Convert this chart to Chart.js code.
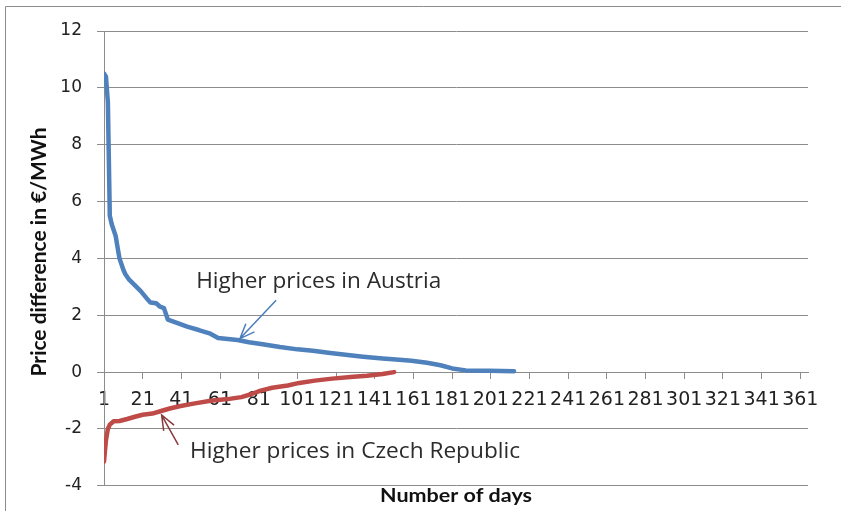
<!DOCTYPE html>
<html>
<head>
<meta charset="utf-8">
<script src="https://cdn.jsdelivr.net/npm/chart.js@4.4.1/dist/chart.umd.min.js"></script>
<style>
  html, body { margin: 0; padding: 0; background: #fff; }
  #wrap { width: 841px; height: 511px; position: relative; }
</style>
</head>
<body>
<div id="wrap"><canvas id="myChart" width="841" height="511"></canvas></div>
<script>
// x tick labels (every 20th day) and y ticks
const xTickDays = [1, 21, 41, 61, 81, 101, 121, 141, 161, 181, 201, 221, 241, 261, 281, 301, 321, 341, 361];
const yTickValues = [-4, -2, 0, 2, 4, 6, 8, 10, 12];

// Higher prices in Austria (sorted duration curve)
const austriaDays = [1, 2, 3, 4, 5, 7, 8, 9, 10, 11, 12, 14, 17, 20, 23, 25, 28, 30, 32, 34, 38, 44, 50, 56, 60, 70, 76, 83, 92, 101, 109, 118, 127, 135, 145, 152, 160, 168, 175, 181, 188, 200, 213];
const austriaValues = [10.5, 10.4, 9.5, 5.5, 5.2, 4.8, 4.4, 4.0, 3.8, 3.6, 3.45, 3.25, 3.05, 2.85, 2.6, 2.45, 2.42, 2.3, 2.25, 1.85, 1.75, 1.6, 1.48, 1.35, 1.2, 1.13, 1.05, 0.98, 0.88, 0.8, 0.75, 0.67, 0.6, 0.54, 0.48, 0.44, 0.4, 0.33, 0.24, 0.13, 0.06, 0.05, 0.03];

// Higher prices in Czech Republic
const czechDays = [1, 2, 3, 4, 6, 9, 13, 17, 21, 26, 31, 35, 40, 48, 57, 65, 72, 77, 82, 88, 96, 102, 110, 119, 130, 137, 145, 151];
const czechValues = [-3.15, -2.4, -2.0, -1.85, -1.73, -1.72, -1.65, -1.57, -1.5, -1.46, -1.36, -1.28, -1.2, -1.1, -1.0, -0.95, -0.88, -0.78, -0.65, -0.55, -0.47, -0.38, -0.3, -0.23, -0.16, -0.13, -0.07, 0.0];

const toPoints = (days, vals) => days.map((d, i) => ({ x: d, y: vals[i] }));

// draws text squeezed/stretched to a given width (the original is a stretched Excel image)
function fitText(ctx, text, cx, cy, width, font, color, rotate) {
    ctx.save();
    ctx.font = font;
    ctx.fillStyle = color;
    ctx.textAlign = 'center';
    ctx.textBaseline = 'middle';
    const w = ctx.measureText(text).width;
    ctx.translate(cx, cy);
    if (rotate) ctx.rotate(-Math.PI / 2);
    ctx.scale(width / w, 1);
    ctx.fillText(text, 0, 0);
    ctx.restore();
}

function arrow(ctx, x1, y1, x2, y2, color) {
    const ang = Math.atan2(y2 - y1, x2 - x1);
    const head = 16, spread = 0.38;
    ctx.save();
    ctx.strokeStyle = color;
    ctx.lineWidth = 1.5;
    ctx.beginPath();
    ctx.moveTo(x1, y1);
    ctx.lineTo(x2, y2);
    ctx.moveTo(x2 - head * Math.cos(ang - spread), y2 - head * Math.sin(ang - spread));
    ctx.lineTo(x2, y2);
    ctx.lineTo(x2 - head * Math.cos(ang + spread), y2 - head * Math.sin(ang + spread));
    ctx.stroke();
    ctx.restore();
}

const frameAndNotes = {
    id: 'frameAndNotes',
    beforeDraw(chart) {
        const ctx = chart.ctx;
        ctx.save();
        ctx.fillStyle = '#fff';
        ctx.fillRect(0, 0, chart.width, chart.height);
        ctx.strokeStyle = '#8c8c8c';
        ctx.lineWidth = 1;
        ctx.beginPath();
        ctx.moveTo(5.5, chart.height);
        ctx.lineTo(5.5, 6.5);
        ctx.lineTo(chart.width, 6.5);
        ctx.stroke();
        ctx.restore();
    },
    afterDraw(chart) {
        const ctx = chart.ctx;
        const xs = chart.scales.x, ys = chart.scales.y;
        const px = d => xs.getPixelForValue(d), py = v => ys.getPixelForValue(v);

        // axis titles
        fitText(ctx, 'Price difference in €/MWh', 40, 252, 249, 'bold 20px Lato', '#111', true);
        fitText(ctx, 'Number of days', 456, 496, 152, 'bold 19px Lato', '#111', false);

        // callouts
        fitText(ctx, 'Higher prices in Austria', px(112), py(3.17), 245, '21px "Open Sans"', '#2b2b2b', false);
        arrow(ctx, px(90), py(2.53), px(71.3), py(1.18), '#4a7ebb');
        fitText(ctx, 'Higher prices in Czech Republic', px(130.8), py(-2.8), 330, '21px "Open Sans"', '#2b2b2b', false);
        arrow(ctx, px(39.4), py(-2.56), px(30.8), py(-1.51), '#8b3a3a');
    }
};

new Chart(document.getElementById('myChart').getContext('2d'), {
    type: 'line',
    data: {
        datasets: [{
            label: 'Higher prices in Austria',
            data: toPoints(austriaDays, austriaValues),
            borderColor: '#4f81bd',
            borderWidth: 4.5,
            borderJoinStyle: 'round',
            borderCapStyle: 'round',
            pointRadius: 0,
            fill: false,
            tension: 0
        }, {
            label: 'Higher prices in Czech Republic',
            data: toPoints(czechDays, czechValues),
            borderColor: '#be4b48',
            borderWidth: 4.5,
            borderJoinStyle: 'round',
            borderCapStyle: 'round',
            pointRadius: 0,
            fill: false,
            tension: 0
        }]
    },
    options: {
        responsive: false,
        animation: false,
        layout: { padding: { top: 31, bottom: 24, right: 33, left: 0 } },
        plugins: { legend: { display: false }, tooltip: { enabled: false } },
        scales: {
            x: {
                type: 'linear',
                min: 1,
                max: 365,
                position: { y: 0 },
                afterBuildTicks: s => { s.ticks = xTickDays.map(v => ({ value: v })); },
                ticks: {
                    autoSkip: false,
                    maxRotation: 0,
                    padding: 11,
                    color: '#222',
                    font: { family: 'DejaVu Sans', size: 19 },
                    callback: v => String(v)
                },
                grid: { drawOnChartArea: false, drawTicks: true, tickLength: 6, color: '#8c8c8c' },
                border: { display: true, color: '#8c8c8c' }
            },
            y: {
                min: -4,
                max: 12,
                afterFit: s => { s.width = 104; },
                afterBuildTicks: s => { s.ticks = yTickValues.map(v => ({ value: v })); },
                ticks: {
                    padding: 15,
                    color: '#222',
                    font: { family: 'DejaVu Sans', size: 17 }
                },
                grid: { color: '#8c8c8c', tickLength: 7 },
                border: { color: '#8c8c8c' }
            }
        }
    },
    plugins: [frameAndNotes]
});
</script>
</body>
</html>
